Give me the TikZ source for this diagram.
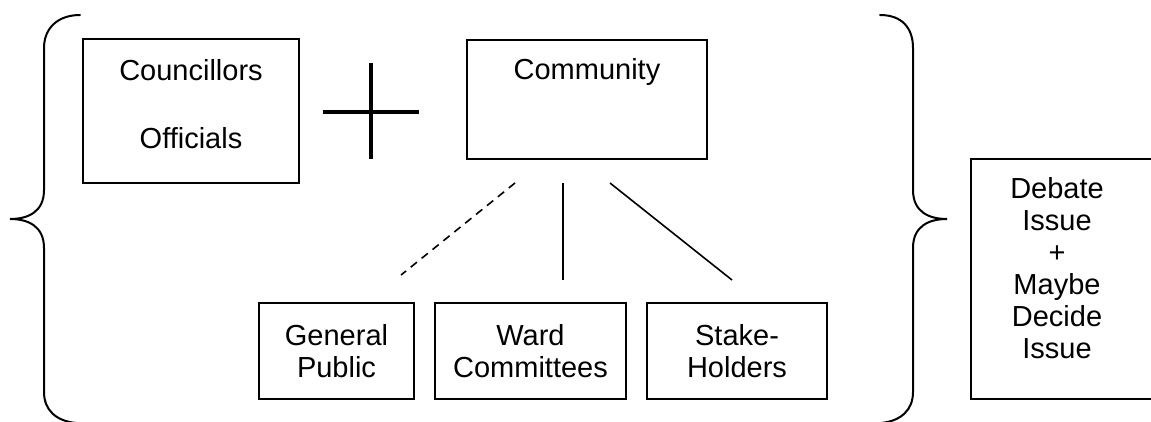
\documentclass[tikz,border=0pt]{standalone}
\usepackage{fontspec}
\setmainfont{Liberation Sans}
\begin{document}
\begin{tikzpicture}[x=1pt,y=-1pt,
  box/.style={draw, line width=1.8pt, inner sep=0pt, align=center,
    font=\fontsize{29}{32}\selectfont},
  txt/.style={inner sep=0pt, align=center, font=\fontsize{29}{32}\selectfont},
  brace/.style={line width=2pt, line cap=round},
  link/.style={line width=1.6pt},
  dashlink/.style={link, dash pattern=on 8pt off 6pt},
  cross/.style={line width=4pt},
]
\useasboundingbox (0,0) rectangle (1151,421);
\clip (0,0) rectangle (1151,421);

% top row
\node[box, minimum width=216pt, minimum height=144pt] (council) at (191,111) {};
\node[txt] (councillabel) at (191,104.5) {Councillors\\[36pt]Officials};
\node[box, minimum width=240pt, minimum height=119pt] (community) at (587,99.5) {};
\node[txt] (communitylabel) at (587,72) {Community};

% plus sign between the two groups
\draw[cross] (323,112) -- (419,112);
\draw[cross] (371,63) -- (371,159);

% bottom row
\node[box, minimum width=155pt, minimum height=96pt] (public) at (336.5,351)
  {General\\Public};
\node[box, minimum width=191pt, minimum height=96pt] (ward) at (530.5,351)
  {Ward\\Committees};
\node[box, minimum width=180pt, minimum height=96pt] (stake) at (737,351)
  {Stake-\\Holders};

% outcome box on the right
\node[box, minimum width=181pt, minimum height=240pt] (debatebox) at (1061.5,279) {};
\node[txt] (debate) at (1057,268)
  {Debate\\Issue\\+\\Maybe\\Decide\\Issue};

% free ends of the links under Community
\coordinate (pubfrom) at (515,183);
\coordinate (pubto) at (401,275);
\coordinate (wardfrom) at (563,183);
\coordinate (wardto) at (563,280);
\coordinate (stakefrom) at (610,183);
\coordinate (staketo) at (732,280);
\draw[dashlink] (pubfrom) -- (pubto);
\draw[link] (wardfrom) -- (wardto);
\draw[link] (stakefrom) -- (staketo);

% braces around the group
\draw[brace] (80,15) .. controls (58,15) and (44,28) .. (44,48)
  -- (44,190) .. controls (44,212) and (28,219) .. (10,219)
  .. controls (28,219) and (44,226) .. (44,248)
  -- (44,392) .. controls (44,410) and (56,421) .. (76,423);
\draw[brace] (880,15) .. controls (902,15) and (913,28) .. (913,48)
  -- (913,190) .. controls (913,212) and (929,219) .. (947,219)
  .. controls (929,219) and (913,226) .. (913,248)
  -- (913,392) .. controls (913,410) and (901,421) .. (881,423);
\end{tikzpicture}
\end{document}
